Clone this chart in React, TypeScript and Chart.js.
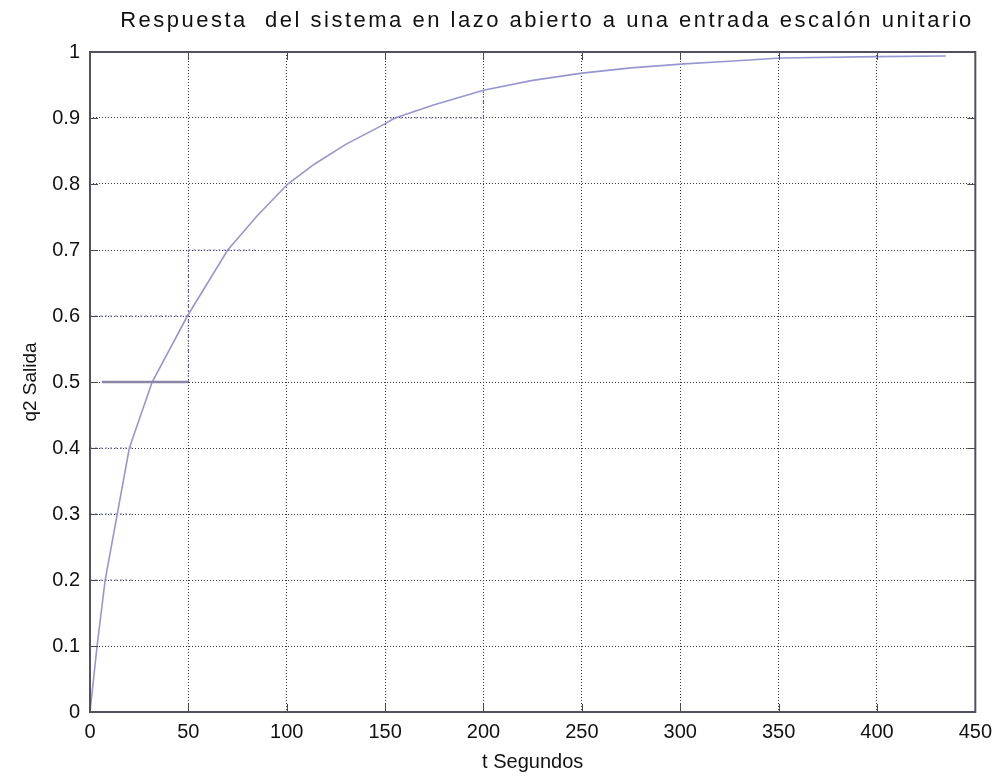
import React, { useEffect, useRef } from "react";
import { Chart, registerables } from "chart.js";

Chart.register(...registerables);

const titleText = "Respuesta  del sistema en lazo abierto a una entrada escalón unitario";
const xAxisTitle = "t Segundos";
const yAxisTitle = "q2 Salida";

const xTickValues = [0, 50, 100, 150, 200, 250, 300, 350, 400, 450];
const yTickValues = [0, 0.1, 0.2, 0.3, 0.4, 0.5, 0.6, 0.7, 0.8, 0.9, 1];

// main response curve
const tValues = [0, 3.6, 7.7, 20, 31.6, 49.5, 70, 85, 100.5, 114, 130, 148, 155, 175, 200, 225, 250, 275, 302, 325, 351, 400, 435];
const q2Values = [0, 0.1, 0.2, 0.4, 0.5, 0.6, 0.7, 0.752, 0.8, 0.83, 0.86, 0.888, 0.9, 0.92, 0.942, 0.957, 0.968, 0.976, 0.982, 0.986, 0.991, 0.993, 0.994];

// horizontal reference at 0.5
const stepX = [6, 50];
const stepY = [0.5, 0.5];

// dotted guide lines
const guide02X = [0, 22];
const guide02Y = [0.2, 0.2];
const guide03X = [0, 21];
const guide03Y = [0.3, 0.3];
const guide04X = [0, 22];
const guide04Y = [0.4, 0.4];
const guide06X = [0, 50];
const guide06Y = [0.6, 0.6];
const guideV50X = [50, 50];
const guideV50Y = [0.5, 0.7];
const guide07X = [50, 84];
const guide07Y = [0.7, 0.7];
const guide09X = [150, 200];
const guide09Y = [0.9, 0.9];
const guideV200X = [200, 200];
const guideV200Y = [0.9, 0.942];

const pts = (xs: number[], ys: number[]) => xs.map((x, i) => ({ x, y: ys[i] }));

const FONT = "'Liberation Sans', Arial, Helvetica, sans-serif";

export default function App() {
  const ref = useRef<HTMLCanvasElement | null>(null);

  useEffect(() => {
    if (!ref.current) return;
    const guideStyle = {
      borderColor: "#7474cc",
      borderWidth: 1.2,
      borderDash: [2, 3],
      pointRadius: 0,
      fill: false,
      tension: 0,
    };
    const boxPlugin = {
      id: "matlabBox",
      afterDraw(chart: any) {
        const { ctx, chartArea: a, scales } = chart;
        ctx.save();
        ctx.strokeStyle = "#4a4a4a";
        ctx.lineWidth = 1;
        ctx.beginPath();
        const tl = 8;
        xTickValues.forEach((v) => {
          const px = Math.round(scales.x.getPixelForValue(v)) + 0.5;
          ctx.moveTo(px, a.bottom);
          ctx.lineTo(px, a.bottom - tl);
          ctx.moveTo(px, a.top);
          ctx.lineTo(px, a.top + tl);
        });
        yTickValues.forEach((v) => {
          const py = Math.round(scales.y.getPixelForValue(v)) + 0.5;
          ctx.moveTo(a.left, py);
          ctx.lineTo(a.left + tl, py);
          ctx.moveTo(a.right, py);
          ctx.lineTo(a.right - tl, py);
        });
        ctx.stroke();
        ctx.strokeStyle = "#555060";
        ctx.lineWidth = 2;
        ctx.strokeRect(a.left, a.top, a.right - a.left, a.bottom - a.top);
        // title
        ctx.fillStyle = "#111";
        ctx.font = `22px ${FONT}`;
        try {
          (ctx as any).letterSpacing = "2.5px";
        } catch (e) {}
        ctx.textAlign = "center";
        ctx.textBaseline = "middle";
        ctx.fillText(titleText, 547, 21);
        ctx.restore();
      },
    };
    const chart = new Chart(ref.current, {
      type: "line",
      data: {
        datasets: [
          { ...guideStyle, data: pts(guide02X, guide02Y) },
          { ...guideStyle, data: pts(guide03X, guide03Y) },
          { ...guideStyle, data: pts(guide04X, guide04Y) },
          { ...guideStyle, data: pts(guide06X, guide06Y) },
          { ...guideStyle, data: pts(guideV50X, guideV50Y) },
          { ...guideStyle, data: pts(guide07X, guide07Y) },
          { ...guideStyle, data: pts(guide09X, guide09Y) },
          { ...guideStyle, data: pts(guideV200X, guideV200Y) },
          {
            data: pts(stepX, stepY),
            borderColor: "#8c86a6",
            borderWidth: 2.5,
            pointRadius: 0,
            fill: false,
          },
          {
            data: pts(tValues, q2Values),
            borderColor: "#9896d0",
            borderWidth: 1.6,
            pointRadius: 0,
            fill: false,
            tension: 0,
          },
        ],
      },
      options: {
        animation: false,
        responsive: false,
        maintainAspectRatio: false,
        layout: { padding: { left: 0, right: 24, top: 52, bottom: 0 } },
        plugins: {
          legend: { display: false },
          tooltip: { enabled: false },
          title: { display: false },
        },
        scales: {
          x: {
            type: "linear",
            min: 0,
            max: 450,
            afterBuildTicks: (s: any) => {
              s.ticks = xTickValues.map((v) => ({ value: v }));
            },
            afterFit: (s: any) => {
              s.height = 66;
            },
            ticks: {
              color: "#111",
              font: { family: FONT, size: 20 },
              padding: 8,
              maxRotation: 0,
              autoSkip: false,
            },
            grid: { color: "#3a3a3a", lineWidth: 1, drawTicks: false },
            border: { display: false, dash: [1, 2] },
            title: {
              display: true,
              text: xAxisTitle,
              color: "#111",
              font: { family: FONT, size: 20 },
              padding: { top: 0, bottom: 4 },
            },
          },
          y: {
            type: "linear",
            min: 0,
            max: 1,
            afterBuildTicks: (s: any) => {
              s.ticks = yTickValues.map((v) => ({ value: v }));
            },
            afterFit: (s: any) => {
              s.width = 90;
            },
            ticks: {
              color: "#111",
              font: { family: FONT, size: 20 },
              padding: 10,
              autoSkip: false,
              callback: (v: any) => String(Number(Number(v).toFixed(1))),
            },
            grid: { color: "#3a3a3a", lineWidth: 1, drawTicks: false },
            border: { display: false, dash: [1, 2] },
            title: {
              display: true,
              text: yAxisTitle,
              color: "#111",
              font: { family: FONT, size: 19 },
              padding: { top: 19, bottom: 0 },
            },
          },
        },
      },
      plugins: [boxPlugin],
    });
    return () => chart.destroy();
  }, []);

  return (
    <div style={{ position: "fixed", left: 0, top: 0, width: 1000, height: 778, background: "#fff" }}>
      <canvas ref={ref} width={1000} height={778} style={{ display: "block", width: 1000, height: 778 }} />
    </div>
  );
}
